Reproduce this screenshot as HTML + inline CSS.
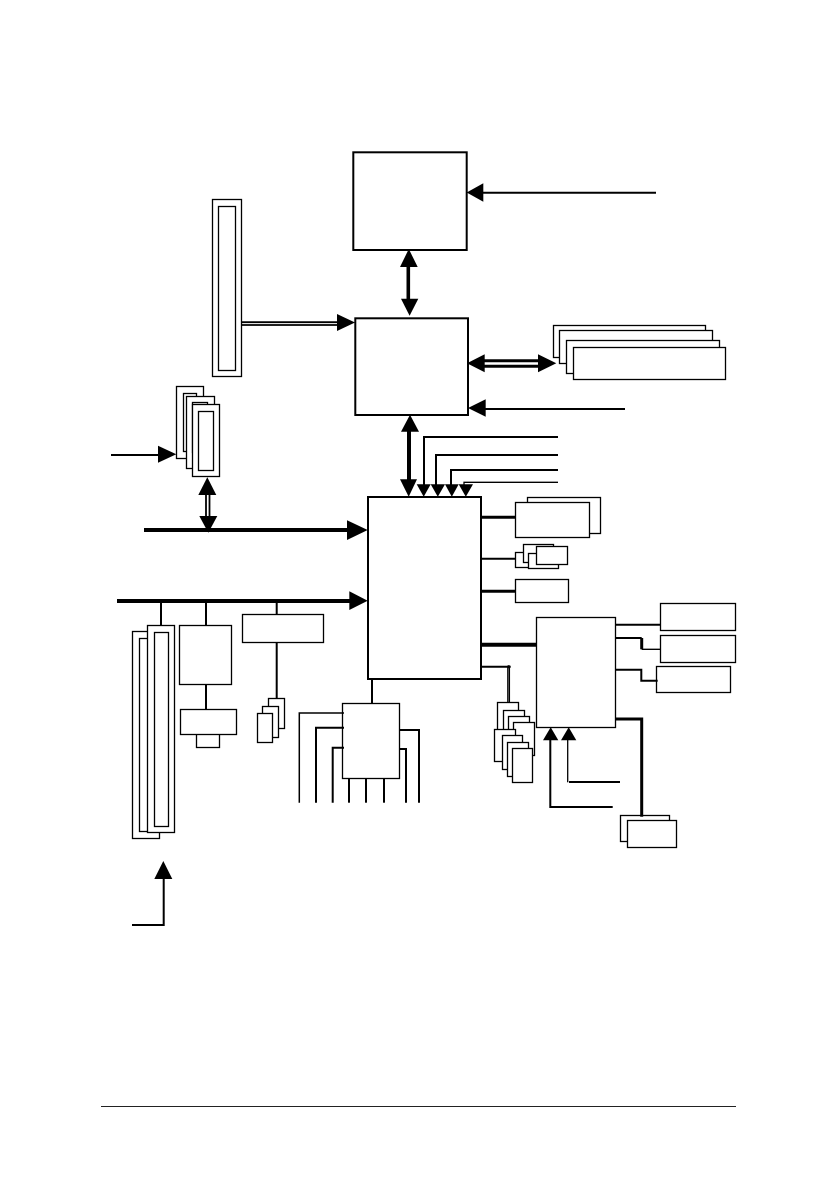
<!DOCTYPE html>
<html><head><meta charset="utf-8"><style>html,body{margin:0;padding:0;background:#fff}svg{display:block}</style></head>
<body>
<svg width="840" height="1190" viewBox="0 0 840 1190" xmlns="http://www.w3.org/2000/svg">
<g fill="#fff" stroke="#000" stroke-width="1.3">
<!-- AGP slot -->
<rect x="212.5" y="199.5" width="29" height="177"/><rect x="218.5" y="206.5" width="17" height="164"/>
<!-- small stack -->
<rect x="176.5" y="386.5" width="27" height="72"/><rect x="183.5" y="393.5" width="13" height="58"/>
<rect x="186.5" y="396.5" width="28" height="72"/><rect x="192.5" y="402.5" width="15" height="50"/>
<rect x="192.5" y="404.5" width="27" height="72"/><rect x="198.5" y="411.5" width="15" height="59"/>
<!-- memory stack -->
<rect x="553.5" y="325.5" width="152" height="32"/>
<rect x="559.5" y="330.5" width="153" height="33"/>
<rect x="566.5" y="340.5" width="153" height="33"/>
<rect x="573.5" y="347.5" width="152" height="32"/>
<!-- peripheral boxes -->
<rect x="527.5" y="497.5" width="73" height="36"/><rect x="515.5" y="502.5" width="74" height="35"/>
<rect x="515.5" y="552.5" width="20" height="15"/><rect x="523.5" y="544.5" width="30" height="18"/>
<rect x="528.5" y="553.5" width="30" height="15"/><rect x="536.5" y="546.5" width="31" height="18"/>
<rect x="515.5" y="579.5" width="53" height="23"/>
<!-- right -->
<rect x="536.5" y="617.5" width="79" height="110"/>
<rect x="660.5" y="603.5" width="75" height="27"/><rect x="660.5" y="635.5" width="75" height="27"/>
<rect x="656.5" y="666.5" width="74" height="26"/>
<rect x="620.5" y="815.5" width="49" height="26"/><rect x="627.5" y="820.5" width="49" height="27"/>
<!-- cards -->
<rect x="497.5" y="702.5" width="21" height="40"/><rect x="503.5" y="710.5" width="21" height="40"/>
<rect x="508.5" y="716.5" width="21" height="40"/><rect x="513.5" y="722.5" width="21" height="33"/>
<rect x="494.5" y="729.5" width="21" height="32"/><rect x="502.5" y="735.5" width="20" height="34"/>
<rect x="507.5" y="742.5" width="21" height="34"/><rect x="512.5" y="748.5" width="20" height="34"/>
<!-- PCI -->
<rect x="132.5" y="631.5" width="27" height="207"/><rect x="139.5" y="638.5" width="20" height="193"/>
<rect x="147.5" y="625.5" width="27" height="207"/><rect x="154.5" y="632.5" width="14" height="194"/>
<!-- lower left boxes -->
<rect x="179.5" y="625.5" width="52" height="59"/>
<rect x="196.5" y="734" width="23" height="13.5"/>
<rect x="180.5" y="709.5" width="56" height="25"/>
<rect x="242.5" y="614.5" width="81" height="28"/>
<rect x="268.5" y="698.5" width="16" height="30"/><rect x="262.5" y="706.5" width="16" height="31"/><rect x="257.5" y="713.5" width="15" height="29"/>
<rect x="342.5" y="703.5" width="57" height="75"/>
</g>
<!-- main chips -->
<g fill="#fff" stroke="#000" stroke-width="2">
<rect x="353.3" y="152.3" width="113.4" height="97.7"/>
<rect x="355.3" y="318.3" width="112.7" height="96.7"/>
<rect x="368" y="497" width="113" height="182"/>
</g>
<!-- lines -->
<g fill="none" stroke="#000">
<g stroke-width="2">
<path d="M483 192.7H656"/>
<path d="M485 409H625"/>
<path d="M424 485V437H558"/><path d="M436 485V455H558"/><path d="M451 485V470H558"/>
<path d="M111 455H158"/>
<path d="M481 558.7H515"/>
<path d="M615.7 624.7H660"/>
<path d="M615.7 638H641.7"/>
<path d="M615.7 669.7H641.3V680.7H657.7"/>
<path d="M481 666.7H510.7"/>
<path d="M550.3 740V807H612.7"/>
<path d="M569 782H620"/>
<path d="M161 601V625"/><path d="M206 601V625"/><path d="M206 684V709"/><path d="M276.7 601V614"/><path d="M276.7 642V698"/>
<path d="M372 679V703"/>
<path d="M316 802.7V727.7H344"/><path d="M332.7 802.7V747.7H344"/>
<path d="M349 778V802.7"/><path d="M366 778V802.7"/><path d="M384 778V802.7"/>
<path d="M399 730H419V802.7"/><path d="M399 749H406V802.7"/>
<path d="M163.7 879V925H132"/>
</g>
<g stroke-width="1.3">
<path d="M464 485V482.3H558"/>
<path d="M299.3 802.7V713H344" stroke-width="1.5"/>
<path d="M641.7 649.3H660"/>
<path d="M567.7 740V782.3"/>
<path d="M507.8 667V702.3"/><path d="M509.4 667V702.3"/>
</g>
<g stroke-width="1.8">
<path d="M241.5 322.2H340"/><path d="M241.5 325H340"/>
<path d="M206 495V516"/><path d="M209.5 495V516"/>
</g>
<g stroke-width="3">
<path d="M481 517.3H515"/><path d="M481 591.3H515"/>
<path d="M484 360.8H538"/><path d="M484 366.2H538"/>
<path d="M641.7 638V649.3"/>
<path d="M615.7 719H641.7V816.7"/>
</g>
<path d="M408.3 265V300" stroke-width="3.6"/>
<g stroke-width="4">
<path d="M409 430V481"/>
<path d="M144 530H349"/><path d="M117 601H350"/>
<path d="M481 644.7H536"/>
</g>
</g>
<!-- arrowheads -->
<g fill="#000">
<polygon points="466.7,192.5 483.3,183.3 483.3,201.7"/>
<polygon points="408.8,249 400,267 417.7,267"/><polygon points="409.6,315.7 401,298.7 418.3,298.7"/>
<polygon points="355,322.5 337,314 337,331"/>
<polygon points="467,363.3 484.7,354.3 484.7,372.3"/><polygon points="556.3,363.3 538,354.3 538,372.3"/>
<polygon points="468,408 485.7,399.3 485.7,416.7"/>
<polygon points="410,414.7 401,431.7 419,431.7"/><polygon points="408.7,496.7 400,479.3 417,479.3"/>
<polygon points="423.7,496.7 416.7,484.3 430.7,484.3"/><polygon points="437.8,496.7 430.7,484.3 445,484.3"/>
<polygon points="451.8,496.7 445,484.3 458.7,484.3"/><polygon points="465.8,496.7 458.7,484.3 473,484.3"/>
<polygon points="176.3,454.2 158,445.7 158,462.7"/>
<polygon points="207.3,477.3 198.3,495 216.3,495"/><polygon points="208.3,532.7 199.3,516 217.3,516"/>
<polygon points="367.7,530 347,520.3 347,540"/>
<polygon points="367.7,600.7 349.3,591.3 349.3,610"/>
<polygon points="550.7,727.3 543,740.3 558.3,740.3"/><polygon points="568.7,727.3 561,740.3 576.3,740.3"/>
<polygon points="163.3,861 154.3,879 172.3,879"/>
<circle cx="508.7" cy="666.7" r="1.6"/>
</g>
<!-- footer -->
<path d="M101 1106.5H736" stroke="#222" stroke-width="1" fill="none"/>
</svg>
</body></html>
